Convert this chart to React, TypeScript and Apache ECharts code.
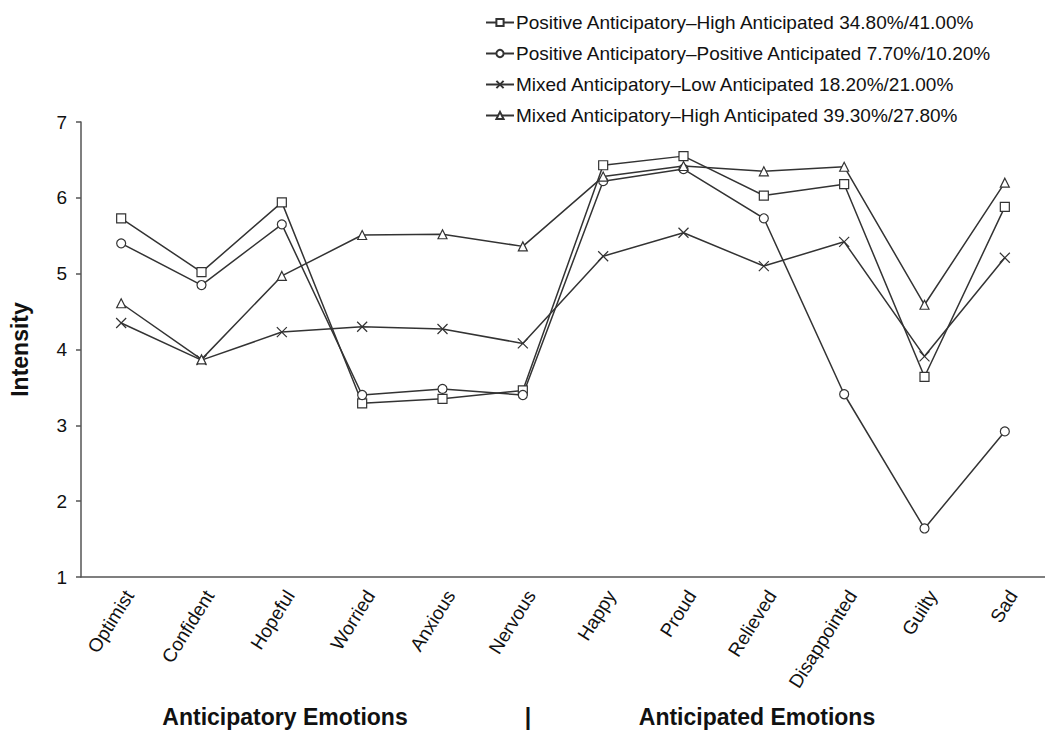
import React, { useEffect, useRef } from "react";
import * as echarts from "echarts";

const categories = [
  "Optimist", "Confident", "Hopeful", "Worried", "Anxious", "Nervous",
  "Happy", "Proud", "Relieved", "Disappointed", "Guilty", "Sad",
];

const seriesNames = [
  "Positive Anticipatory–High Anticipated 34.80%/41.00%",
  "Positive Anticipatory–Positive Anticipated 7.70%/10.20%",
  "Mixed Anticipatory–Low Anticipated 18.20%/21.00%",
  "Mixed Anticipatory–High Anticipated 39.30%/27.80%",
];

const posHigh = [5.73, 5.02, 5.94, 3.29, 3.35, 3.46, 6.43, 6.55, 6.03, 6.18, 3.64, 5.88];
const posPos = [5.40, 4.85, 5.65, 3.40, 3.48, 3.40, 6.22, 6.38, 5.73, 3.41, 1.64, 2.92];
const mixedLow = [4.35, 3.86, 4.23, 4.30, 4.27, 4.08, 5.23, 5.54, 5.10, 5.42, 3.91, 5.21];
const mixedHigh = [4.61, 3.87, 4.97, 5.51, 5.52, 5.36, 6.28, 6.42, 6.35, 6.41, 4.59, 6.20];

const yTicks = [1, 2, 3, 4, 5, 6, 7];

const groupLabels = ["Anticipatory Emotions", "|", "Anticipated Emotions"];

const CROSS = "path://M0,0L10,10M10,0L0,10";

export default function App() {
  const ref = useRef<HTMLDivElement>(null);
  useEffect(() => {
    if (!ref.current) return;
    const chart = echarts.init(ref.current, undefined, { renderer: "svg" });
    const font = "'Liberation Sans', Arial, Helvetica, sans-serif";
    const dataSets = [posHigh, posPos, mixedLow, mixedHigh];
    const symbols = ["rect", "circle", CROSS, "triangle"];
    const sizes = [9, 9, 10, 9];
    const groupX = [285, 528, 757];
    chart.setOption({
      animation: false,
      backgroundColor: "#fff",
      textStyle: { fontFamily: font },
      grid: { left: 73, right: -7, top: 122, bottom: 154, containLabel: false },
      legend: {
        orient: "vertical",
        left: 480,
        top: 8,
        itemWidth: 28,
        itemHeight: 9,
        itemGap: 12,
        data: seriesNames,
        textStyle: { fontSize: 19, color: "#111", fontFamily: font, padding: [0, 0, 0, -3] },
      },
      xAxis: {
        type: "category",
        data: categories,
        boundaryGap: true,
        axisLine: { show: true, lineStyle: { color: "#555", width: 1.5 } },
        axisTick: { show: false },
        axisLabel: {
          rotate: 58,
          fontSize: 19,
          color: "#111",
          margin: 10,
          interval: 0,
          verticalAlign: "top",
          fontFamily: font,
        },
        splitLine: { show: false },
      },
      yAxis: {
        type: "value",
        min: yTicks[0],
        max: yTicks[yTicks.length - 1],
        interval: 1,
        name: "Intensity",
        nameLocation: "middle",
        nameRotate: 90,
        nameGap: 50,
        nameTextStyle: { fontSize: 23, fontWeight: "bold", color: "#111", fontFamily: font },
        axisLine: { show: true, lineStyle: { color: "#555", width: 1.5 } },
        axisTick: { show: true, inside: false, length: 5, lineStyle: { color: "#555", width: 1.5 } },
        axisLabel: { fontSize: 19, color: "#111", margin: 14, fontFamily: font },
        splitLine: { show: false },
      },
      series: dataSets.map((d, i) => ({
        name: seriesNames[i],
        type: "line",
        data: d,
        symbol: symbols[i],
        symbolSize: sizes[i],
        showAllSymbol: true,
        lineStyle: { color: "#333", width: 1.5 },
        itemStyle: { color: "#fff", borderColor: "#333", borderWidth: 1.2 },
        emphasis: { disabled: true },
      })),
      graphic: groupLabels.map((t, i) => ({
        type: "text",
        x: groupX[i],
        y: 717,
        style: {
          text: t,
          fontSize: 23,
          fontWeight: "bold",
          fill: "#111",
          fontFamily: font,
          align: "center",
          verticalAlign: "middle",
        },
      })),
    });
    return () => chart.dispose();
  }, []);
  return (
    <div
      ref={ref}
      style={{ position: "fixed", left: 0, top: 0, width: 1045, height: 731, background: "#fff" }}
    />
  );
}
